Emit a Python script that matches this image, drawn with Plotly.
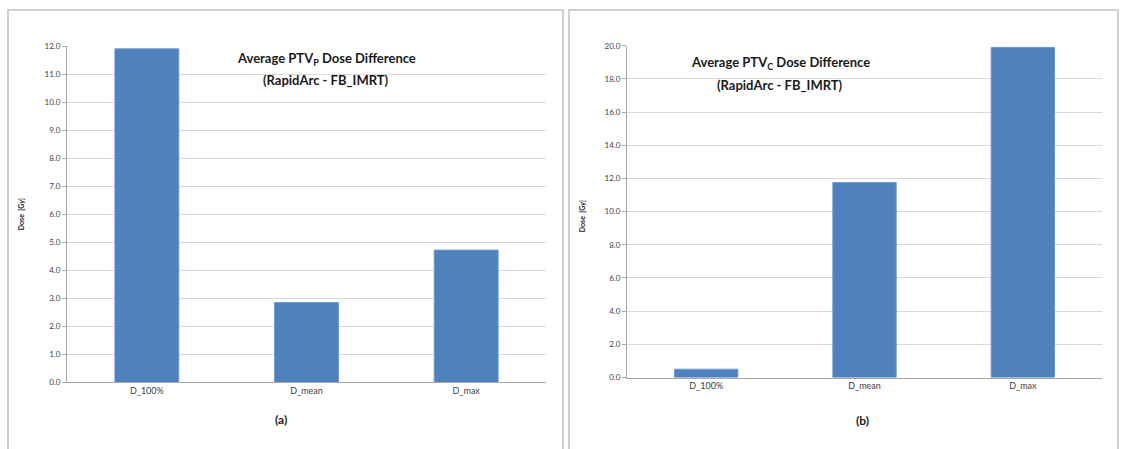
import plotly.graph_objects as go

# Dose metrics on the x axis
categories = ["D_100%", "D_mean", "D_max"]

# Average dose difference (RapidArc - FB_IMRT), Gy
ptv_p_diff = [11.9, 2.85, 4.72]
ptv_c_diff = [0.5, 11.75, 19.9]

W, H = 1122, 449
BAR = "#4F81BD"
GRID = "#d9d9d9"
AXIS = "#a6a6a6"
FONT = "Lato"
TXT = "#404040"


def px_x(x):
    return x / W


def px_y(y):
    return 1 - y / H


fig = go.Figure()
fig.add_trace(go.Bar(x=categories, y=ptv_p_diff, width=0.4,
                     marker=dict(color=BAR, line=dict(color="#6f98c9", width=1)),
                     xaxis="x", yaxis="y", showlegend=False))
fig.add_trace(go.Bar(x=categories, y=ptv_c_diff, width=0.4,
                     marker=dict(color=BAR, line=dict(color="#6f98c9", width=1)),
                     xaxis="x2", yaxis="y2", showlegend=False))

common_x = dict(type="category", range=[-0.5, 2.5], showline=True, linecolor=AXIS,
                linewidth=1, showgrid=False, ticks="", fixedrange=True,
                tickfont=dict(family=FONT, size=9, color=TXT))
common_y = dict(showline=True, linecolor=AXIS, linewidth=1, showgrid=True,
                gridcolor=GRID, gridwidth=1, ticks="outside", ticklen=4,
                tickcolor=AXIS, tickformat=".1f", zeroline=False,
                tickfont=dict(family=FONT, size=8, color=TXT))

fig.update_layout(
    width=W, height=H,
    margin=dict(l=0, r=0, t=0, b=0),
    paper_bgcolor="white", plot_bgcolor="white",
    bargap=0.6,
    xaxis=dict(common_x, domain=[px_x(67), px_x(546)], anchor="y"),
    yaxis=dict(common_y, domain=[px_y(386), px_y(42)], range=[0, 12], dtick=1, anchor="x"),
    xaxis2=dict(common_x, domain=[px_x(627), px_x(1102)], anchor="y2"),
    yaxis2=dict(common_y, domain=[px_y(381), px_y(41.7)], range=[0, 20], dtick=2, anchor="x2"),
)

# Panel frames (open at the bottom edge of the page)
for x0, x1 in [(8, 563), (569, 1118)]:
    fig.add_shape(type="rect", xref="paper", yref="paper",
                  x0=px_x(x0), x1=px_x(x1), y0=px_y(470), y1=px_y(5),
                  line=dict(color="#d0d0d0", width=2), fillcolor="rgba(0,0,0,0)")

ann = []
title_font = dict(family=FONT, size=13, color="#1a1a1a")
ann.append(dict(x=px_x(326), y=px_y(55), text="<b>Average PTV<sub>P</sub> Dose Difference</b>",
                font=title_font))
ann.append(dict(x=px_x(326), y=px_y(77), text="<b>(RapidArc - FB_IMRT)</b>", font=title_font))
ann.append(dict(x=px_x(780), y=px_y(59), text="<b>Average PTV<sub>C</sub> Dose Difference</b>",
                font=title_font))
ann.append(dict(x=px_x(780), y=px_y(82), text="<b>(RapidArc - FB_IMRT)</b>", font=title_font))
ann.append(dict(x=px_x(21), y=px_y(214), text="<b>Dose  [Gy]</b>", textangle=-90,
                font=dict(family=FONT, size=7, color="#1a1a1a")))
ann.append(dict(x=px_x(582), y=px_y(216), text="<b>Dose  [Gy]</b>", textangle=-90,
                font=dict(family=FONT, size=7, color="#1a1a1a")))
ann.append(dict(x=px_x(281), y=px_y(424), text="<b>(a)</b>",
                font=dict(family=FONT, size=12, color="#1a1a1a")))
ann.append(dict(x=px_x(862), y=px_y(425), text="<b>(b)</b>",
                font=dict(family=FONT, size=12, color="#1a1a1a")))
for a in ann:
    a.update(xref="paper", yref="paper", showarrow=False, xanchor="center", yanchor="middle")
fig.update_layout(annotations=ann)

fig.write_html("out.html")
